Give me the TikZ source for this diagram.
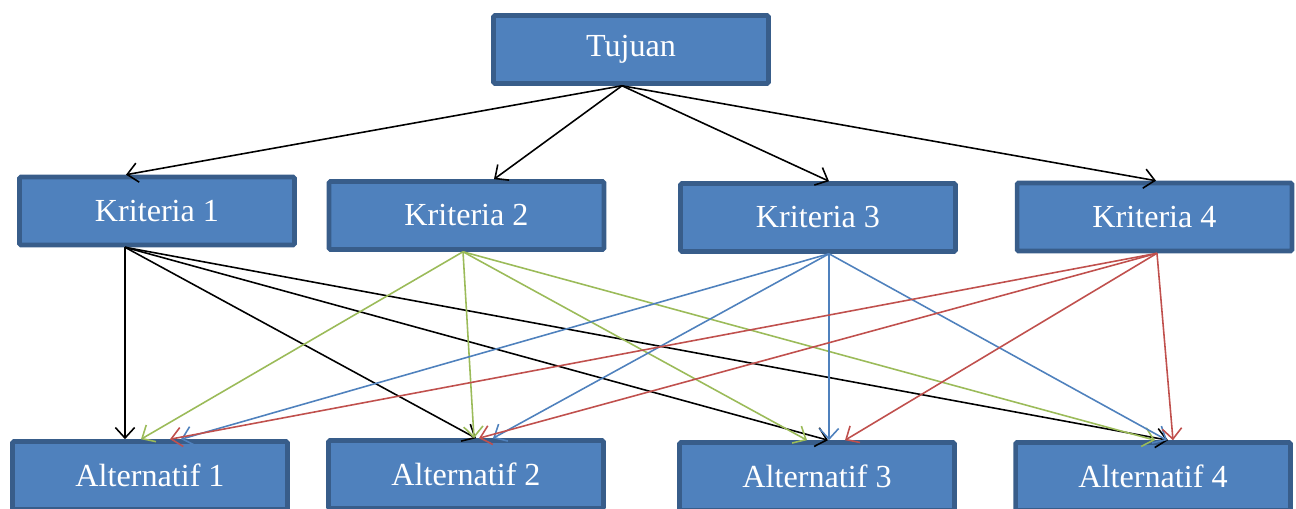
\documentclass[tikz,border=0pt]{standalone}
\usepackage{fontspec}
\setmainfont{Liberation Serif}
\usetikzlibrary{arrows.meta,calc}
\definecolor{boxfill}{HTML}{4F81BD}
\definecolor{boxline}{HTML}{385D8A}
\definecolor{cgreen}{HTML}{9BBB59}
\definecolor{cblue}{HTML}{4F81BD}
\definecolor{cred}{HTML}{C0504D}
\begin{document}
\begin{tikzpicture}[x=0.02cm,y=-0.02cm,
  box/.style={draw=boxline,fill=boxfill,line width=2.6pt,rounded corners=0.8pt,
    minimum width=5.5cm,minimum height=1.36cm,inner sep=0pt,text=white,
    font=\fontsize{18.3}{22}\selectfont},
  conn/.style={line width=0.9pt,-{Straight Barb[length=6pt,width=11pt]}}]
\clip (0,0) rectangle (1296,509);
\useasboundingbox (0,0) rectangle (1296,509);
% boxes
\node[box] (t) at (631,49.5) {Tujuan};
\node[box] (k1) at (157,211) {Kriteria 1};
\node[box] (k2) at (466.5,215.5) {Kriteria 2};
\node[box] (k3) at (818,217.5) {Kriteria 3};
\node[box] (k4) at (1154.5,217) {Kriteria 4};
\node[box] (a1) at (150,475.5) {Alternatif 1};
\node[box] (a2) at (466,474.5) {Alternatif 2};
\node[box] (a3) at (817,476.5) {Alternatif 3};
\node[box] (a4) at (1153,476.5) {Alternatif 4};
% goal to criteria
\draw[conn] ($(t.south)+(-9,0)$) -- ($(k1.north)+(-31,0)$);
\draw[conn] ($(t.south)+(-9,0)$) -- ($(k2.north)+(27.5,0)$);
\draw[conn] ($(t.south)+(-9,0)$) -- ($(k3.north)+(11,0)$);
\draw[conn] ($(t.south)+(-9,0)$) -- ($(k4.north)+(1.5,0)$);
% criteria 1 (black)
\draw[conn] ($(k1.south)+(-32,0)$) -- ($(a1.north)+(-25,0)$);
\draw[conn] ($(k1.south)+(-32,0)$) -- ($(a2.north)+(10,0)$);
\draw[conn] ($(k1.south)+(-32,0)$) -- ($(a3.north)+(11,0)$);
\draw[conn] ($(k1.south)+(-32,0)$) -- ($(a4.north)+(15,0)$);
% criteria 2 (green)
\draw[conn,cgreen] ($(k2.south)+(-3.5,0)$) -- ($(a1.north)+(-9,0)$);
\draw[conn,cgreen] ($(k2.south)+(-3.5,0)$) -- ($(a2.north)+(8,0)$);
\draw[conn,cgreen] ($(k2.south)+(-3.5,0)$) -- ($(a3.north)+(-10,0)$);
\draw[conn,cgreen] ($(k2.south)+(-3.5,0)$) -- ($(a4.north)+(2,0)$);
% criteria 3 (blue)
\draw[conn,cblue] ($(k3.south)+(11,0)$) -- ($(a1.north)+(31,0)$);
\draw[conn,cblue] ($(k3.south)+(11,0)$) -- ($(a2.north)+(27,0)$);
\draw[conn,cblue] ($(k3.south)+(11,0)$) -- ($(a3.north)+(12,0)$);
\draw[conn,cblue] ($(k3.south)+(11,0)$) -- ($(a4.north)+(14,0)$);
% criteria 4 (red)
\draw[conn,cred] ($(k4.south)+(2.5,0)$) -- ($(a1.north)+(20,0)$);
\draw[conn,cred] ($(k4.south)+(2.5,0)$) -- ($(a2.north)+(13,0)$);
\draw[conn,cred] ($(k4.south)+(2.5,0)$) -- ($(a3.north)+(28,0)$);
\draw[conn,cred] ($(k4.south)+(2.5,0)$) -- ($(a4.north)+(20,0)$);
\end{tikzpicture}
\end{document}
